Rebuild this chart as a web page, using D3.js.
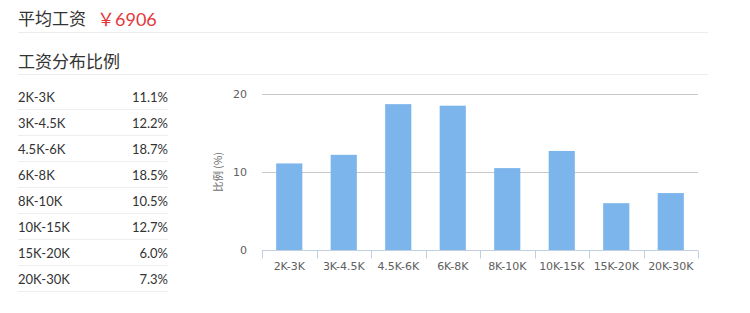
<!DOCTYPE html>
<html><head><meta charset="utf-8">
<script src="https://cdn.jsdelivr.net/npm/d3@7/dist/d3.min.js"></script>
<style>
body{margin:0;background:#fff;}
svg{display:block;}
</style></head>
<body>
<svg id="c" width="750" height="313"></svg>
<script>
const categories = ["2K-3K","3K-4.5K","4.5K-6K","6K-8K","8K-10K","10K-15K","15K-20K","20K-30K"];
const values = [11.1,12.2,18.7,18.5,10.5,12.7,6.0,7.3];
const valueLabels = ["11.1%","12.2%","18.7%","18.5%","10.5%","12.7%","6.0%","7.3%"];
const yTicks = [0,10,20];
const avgSalary = "￥6906";

const svg = d3.select("#c");
const cjk = "'Noto Sans CJK SC', 'Noto Sans', sans-serif";
const latin = "Lato, 'Noto Sans CJK SC', sans-serif";

// header
svg.append("text").attr("x",18).attr("y",25).attr("font-family",cjk).attr("font-size",17).attr("fill","#333").text("平均工资");
svg.append("text").attr("x",97).attr("y",25.5).attr("font-family",latin).attr("font-size",18).attr("fill","#e4393c").text(avgSalary);
svg.append("line").attr("x1",18).attr("x2",708).attr("y1",32.5).attr("y2",32.5).attr("stroke","#ececec");
svg.append("text").attr("x",18).attr("y",68).attr("font-family",cjk).attr("font-size",17).attr("fill","#333").text("工资分布比例");
svg.append("line").attr("x1",18).attr("x2",708).attr("y1",74.5).attr("y2",74.5).attr("stroke","#ececec");

// table
const rowY = d3.scaleBand().domain(categories).range([84,292]);
const rows = svg.append("g").selectAll("g").data(categories).join("g")
  .attr("transform", d => `translate(0,${rowY(d)})`);
rows.append("text").attr("x",18).attr("y",rowY.bandwidth()/2+5)
  .attr("font-family",latin).attr("font-size",13).attr("fill","#333").text(d=>d);
rows.append("text").attr("x",168).attr("y",rowY.bandwidth()/2+5).attr("text-anchor","end")
  .attr("font-family",latin).attr("font-size",13).attr("fill","#333").text((d,i)=>valueLabels[i]);
rows.append("line").attr("x1",18).attr("x2",168).attr("y1",rowY.bandwidth()-0.5).attr("y2",rowY.bandwidth()-0.5)
  .attr("stroke","#eeeeee");

// chart
const x = d3.scaleBand().domain(categories).range([262,698]).paddingInner(0.52).paddingOuter(0.26);
const xb = d3.scaleBand().domain(categories).range([262,698]);
const y = d3.scaleLinear().domain([0,20]).range([250,94]);

const grid = svg.append("g");
grid.selectAll("line").data(yTicks.filter(t=>t>0)).join("line")
  .attr("x1",262).attr("x2",698).attr("y1",d=>Math.round(y(d))+0.5).attr("y2",d=>Math.round(y(d))+0.5)
  .attr("stroke","#c8c8c8");

svg.append("g").selectAll("rect").data(values).join("rect")
  .attr("x",(d,i)=>x(categories[i])).attr("width",x.bandwidth())
  .attr("y",d=>y(d)).attr("height",d=>y(0)-y(d)).attr("fill","#7cb5ec");

// x axis
const xa = svg.append("g").attr("transform","translate(0,250.5)");
xa.append("line").attr("x1",262).attr("x2",698).attr("stroke","#c0d0e0");
const bounds = categories.map(c=>xb(c)).concat([698]);
xa.selectAll("line.t").data(bounds).join("line").attr("class","t")
  .attr("x1",d=>Math.round(d)+0.5).attr("x2",d=>Math.round(d)+0.5).attr("y1",0).attr("y2",8).attr("stroke","#c0d0e0");
xa.selectAll("text").data(categories).join("text")
  .attr("x",d=>xb(d)+xb.bandwidth()/2).attr("y",19.5).attr("text-anchor","middle")
  .attr("font-family","'DejaVu Sans', sans-serif").attr("font-size",11).attr("fill","#606060").text(d=>d);

// y axis labels
svg.append("g").selectAll("text").data(yTicks).join("text")
  .attr("x",247).attr("y",d=>y(d)+4).attr("text-anchor","end")
  .attr("font-family","'DejaVu Sans', sans-serif").attr("font-size",11).attr("fill","#606060").text(d=>d);

svg.append("text").attr("transform","translate(222,172) rotate(-90)").attr("text-anchor","middle")
  .attr("font-family",cjk).attr("font-size",10.5).attr("fill","#707070").text("比例 (%)");
</script>
</body></html>
